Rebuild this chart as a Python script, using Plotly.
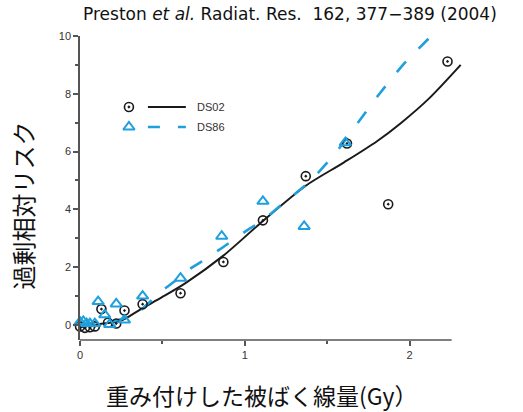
import plotly.graph_objects as go

# ---- data ----
ds02_x = [0.00, 0.03, 0.06, 0.09, 0.13, 0.17, 0.22, 0.27, 0.38, 0.61, 0.87, 1.11, 1.37, 1.62, 1.87, 2.23]
ds02_y = [-0.05, -0.1, -0.08, -0.05, 0.55, 0.08, 0.05, 0.50, 0.72, 1.10, 2.18, 3.62, 5.15, 6.28, 4.18, 9.12]

ds86_x = [0.00, 0.02, 0.04, 0.06, 0.09, 0.11, 0.15, 0.18, 0.22, 0.27, 0.38, 0.61, 0.86, 1.11, 1.36, 1.61]
ds86_y = [0.10, 0.12, 0.05, 0.05, 0.05, 0.81, 0.35, 0.02, 0.73, 0.17, 1.00, 1.62, 3.07, 4.28, 3.41, 6.31]

fit02_x = [0.00, 0.13, 0.25, 0.37, 0.50, 0.64, 0.87, 1.11, 1.37, 1.60, 1.80, 1.95, 2.12, 2.31]
fit02_y = [-0.08, 0.04, 0.15, 0.55, 0.97, 1.45, 2.40, 3.60, 4.82, 5.62, 6.35, 7.00, 7.85, 9.00]

fit86_x = [0.00, 0.10, 0.20, 0.30, 0.37, 0.49, 0.56, 0.67, 0.74, 0.87, 1.02, 1.09, 1.22, 1.40, 1.55, 1.68, 1.81, 1.96, 2.13, 2.20]
fit86_y = [0.00, 0.03, 0.12, 0.30, 0.52, 1.15, 1.45, 1.95, 2.20, 2.70, 3.30, 3.54, 4.15, 5.00, 5.95, 6.95, 7.95, 9.00, 10.0, 10.45]

x_ticks = [0, 1, 2]
y_ticks = [0, 2, 4, 6, 8, 10]
series_names = ["DS02", "DS86"]

title_text = "Preston <i>et al.</i> Radiat. Res.\u00a0 162, 377\u2212389 (2004)"
xlabel = "重み付けした被ばく線量(Gy）"
ylabel = "過剰相対リスク"

BLACK = "#1a1a1a"
BLUE = "#1f9fdc"
AXIS = "#555555"
LATIN = "Liberation Sans, Arial, sans-serif"
TITLEF = "DejaVu Sans, sans-serif"
CJK = "Noto Sans CJK JP, sans-serif"

fig = go.Figure()

# fitted curves
fig.add_trace(go.Scatter(x=fit02_x, y=fit02_y, mode="lines",
                         line=dict(color=BLACK, width=2, shape="spline", smoothing=0.8),
                         showlegend=False, hoverinfo="skip"))
fig.add_trace(go.Scatter(x=fit86_x, y=fit86_y, mode="lines",
                         line=dict(color=BLUE, width=2.6, dash="14px,18px", shape="spline", smoothing=0.6),
                         showlegend=False, hoverinfo="skip"))
# data points
fig.add_trace(go.Scatter(x=ds02_x, y=ds02_y, mode="markers",
                         marker=dict(symbol="circle-open-dot", size=9, color=BLACK,
                                     line=dict(color=BLACK, width=1.6)),
                         showlegend=False, cliponaxis=False))
fig.add_trace(go.Scatter(x=ds86_x, y=ds86_y, mode="markers",
                         marker=dict(symbol="triangle-up-open", size=10, color=BLUE,
                                     line=dict(color=BLUE, width=2)),
                         showlegend=False, cliponaxis=False))

# custom legend drawn on an overlay pixel-like axis
fig.add_trace(go.Scatter(x=[129], y=[107], mode="markers", xaxis="x2", yaxis="y2",
                         marker=dict(symbol="circle-open-dot", size=9, color=BLACK,
                                     line=dict(color=BLACK, width=1.6)),
                         showlegend=False, hoverinfo="skip"))
fig.add_trace(go.Scatter(x=[148, 186], y=[107, 107], mode="lines", xaxis="x2", yaxis="y2",
                         line=dict(color=BLACK, width=2), showlegend=False, hoverinfo="skip"))
fig.add_trace(go.Scatter(x=[129], y=[127], mode="markers", xaxis="x2", yaxis="y2",
                         marker=dict(symbol="triangle-up-open", size=10, color=BLUE,
                                     line=dict(color=BLUE, width=2)),
                         showlegend=False, hoverinfo="skip"))
fig.add_trace(go.Scatter(x=[148, 186], y=[127, 127], mode="lines", xaxis="x2", yaxis="y2",
                         line=dict(color=BLUE, width=2.6, dash="12px,18px"),
                         showlegend=False, hoverinfo="skip"))
for name, yy in zip(series_names, [107, 127]):
    fig.add_annotation(x=195, y=yy, xref="x2", yref="y2", text=name, showarrow=False,
                       xanchor="left", yanchor="middle",
                       font=dict(family=LATIN, size=11, color="#333333"))

# x axis line (limited length like in the reference)
fig.add_shape(type="line", xref="x", yref="paper", x0=0, x1=2.255, y0=0, y1=0,
              line=dict(color=AXIS, width=1.5))

fig.update_layout(
    width=523, height=412,
    margin=dict(l=80, r=58.5, t=36, b=72),
    paper_bgcolor="white", plot_bgcolor="white",
    xaxis=dict(range=[0, 2.33], tickvals=x_ticks, ticktext=[str(v) for v in x_ticks],
               showgrid=False, zeroline=False, showline=False,
               ticks="outside", ticklen=5, tickwidth=1.5, tickcolor=AXIS,
               minor=dict(tickvals=[0.5, 1.5], ticks="outside", ticklen=3, tickwidth=1.5, tickcolor=AXIS),
               tickfont=dict(family=LATIN, size=11, color="#333333")),
    yaxis=dict(range=[-0.52, 10], tickvals=y_ticks, ticktext=[str(v) for v in y_ticks],
               showgrid=False, zeroline=False, showline=True, linecolor=AXIS, linewidth=1.5,
               ticks="outside", ticklen=5, tickwidth=1.5, tickcolor=AXIS,
               minor=dict(tickvals=[1, 3, 5, 7, 9], ticks="outside", ticklen=3, tickwidth=1.5, tickcolor=AXIS),
               tickfont=dict(family=LATIN, size=11, color="#333333")),
    xaxis2=dict(range=[80, 464.5], overlaying="x", visible=False, fixedrange=True),
    yaxis2=dict(range=[340, 36], overlaying="y", visible=False, fixedrange=True),
    showlegend=False,
)

fig.add_annotation(x=0.546, y=1.072, xref="paper", yref="paper", text=title_text,
                   showarrow=False, xanchor="center", yanchor="middle",
                   font=dict(family=TITLEF, size=17, color="#111111"))
fig.add_annotation(x=0.473, y=-0.181, xref="paper", yref="paper", text=xlabel,
                   showarrow=False, xanchor="center", yanchor="middle",
                   font=dict(family=CJK, size=23, color="#111111"))
fig.add_annotation(x=-0.15, y=0.444, xref="paper", yref="paper", text=ylabel,
                   showarrow=False, xanchor="center", yanchor="middle", textangle=-90,
                   font=dict(family=CJK, size=24, color="#111111"))

fig.write_html("out.html")
